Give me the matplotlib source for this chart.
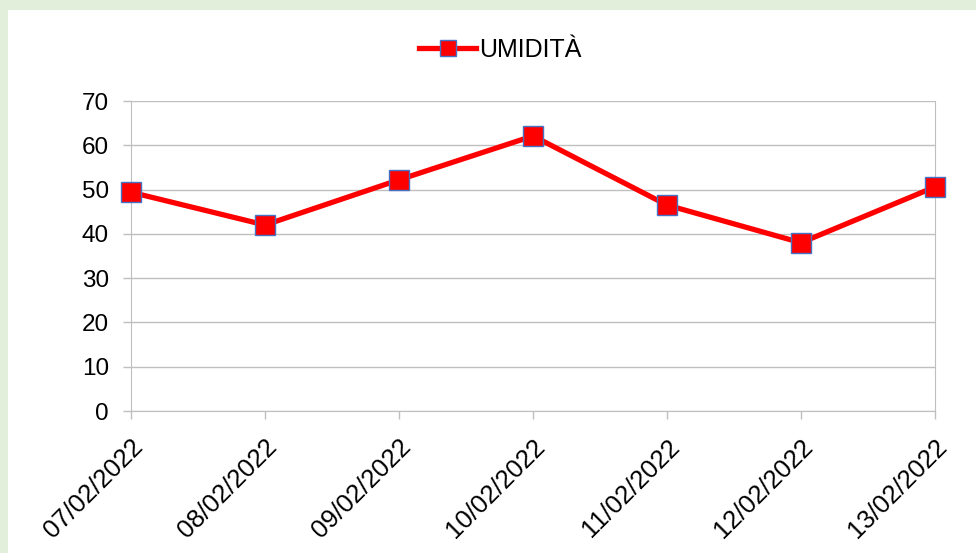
import numpy as np
import matplotlib.pyplot as plt
from matplotlib.patches import Rectangle

plt.rcParams['font.family'] = ['Liberation Sans', 'DejaVu Sans']

# dati
date = ['07/02/2022', '08/02/2022', '09/02/2022', '10/02/2022',
        '11/02/2022', '12/02/2022', '13/02/2022']
umidita = [49.4, 42.0, 52.2, 62.1, 46.5, 38.0, 50.6]

fig = plt.figure(figsize=(9.76, 5.53), dpi=100)
fig.patch.set_facecolor('#E2EFDA')
# area bianca del grafico
fig.add_artist(Rectangle((8 / 976, 0), 1, 1 - 10 / 553, transform=fig.transFigure,
                         facecolor='white', edgecolor='none', zorder=-10))

ax = fig.add_axes([131 / 976, 1 - 411 / 553, (935 - 131) / 976, (411 - 101) / 553])
ax.set_zorder(1)
ax.set_facecolor('white')

x = np.arange(len(date))
ax.plot(x, umidita, color='#FF0000', linewidth=3.8, marker='s', markersize=15,
        markerfacecolor='#FF0000', markeredgecolor='#4472C4', markeredgewidth=1,
        label='UMIDITÀ', clip_on=False, zorder=3)

ax.set_xlim(0, len(date) - 1)
ax.set_ylim(0, 70)
ax.set_yticks(range(0, 71, 10))
ax.set_xticks(x)
ax.set_xticklabels(date, rotation=45, ha='right', va='top', rotation_mode='anchor')
ax.tick_params(axis='both', color='#BFBFBF', length=6, width=1)
ax.tick_params(axis='y', pad=10, labelsize=17.5)
ax.tick_params(axis='x', pad=11, labelsize=18.5)

ax.grid(axis='y', color='#BFBFBF', linewidth=1)
ax.set_axisbelow(True)
for s in ['left', 'bottom', 'right']:
    ax.spines[s].set_color('#BFBFBF')
ax.spines['top'].set_visible(False)

fig.legend(loc='center', bbox_to_anchor=(500 / 976, 1 - 50 / 553), frameon=False,
           fontsize=18, handlelength=2.3, handletextpad=0.1, markerscale=0.75)

fig.savefig('out.png', dpi=100)
